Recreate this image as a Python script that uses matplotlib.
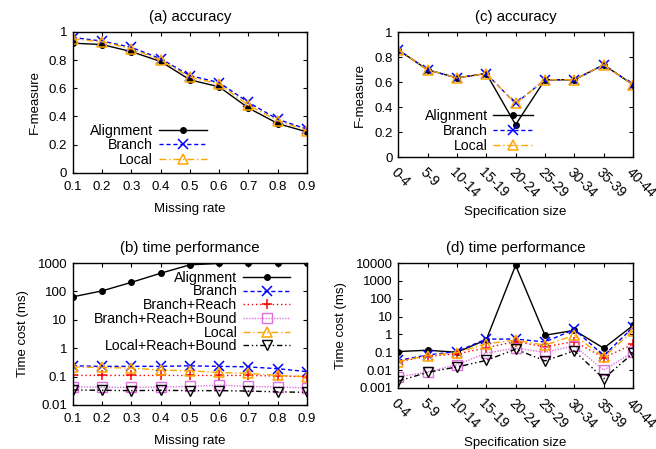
import matplotlib
matplotlib.use("Agg")
import matplotlib.pyplot as plt
from matplotlib.ticker import FixedLocator, FuncFormatter

plt.rcParams['font.family'] = ['Liberation Sans', 'DejaVu Sans']
plt.rcParams['font.size'] = 9.5

rates = [0.1, 0.2, 0.3, 0.4, 0.5, 0.6, 0.7, 0.8, 0.9]
sizes = ["0-4", "5-9", "10-14", "15-19", "20-24", "25-29", "30-34", "35-39", "40-44"]

# (a) accuracy vs missing rate
acc_rate_align = [0.92, 0.91, 0.86, 0.79, 0.66, 0.61, 0.46, 0.35, 0.29]
acc_rate_branch = [0.96, 0.935, 0.89, 0.81, 0.69, 0.64, 0.50, 0.38, 0.31]
acc_rate_local = [0.95, 0.93, 0.88, 0.80, 0.68, 0.63, 0.48, 0.37, 0.30]

# (c) accuracy vs specification size
acc_size_align = [0.86, 0.70, 0.635, 0.67, 0.26, 0.62, 0.62, 0.74, 0.58]
acc_size_branch = [0.86, 0.70, 0.635, 0.67, 0.43, 0.62, 0.62, 0.74, 0.58]
acc_size_local = [0.86, 0.70, 0.635, 0.67, 0.43, 0.62, 0.62, 0.74, 0.58]

# (b) time vs missing rate
t_rate_align = [65, 105, 210, 440, 870, 980, 1000, 1000, 1000]
t_rate_branch = [0.24, 0.23, 0.23, 0.23, 0.24, 0.23, 0.22, 0.19, 0.15]
t_rate_br = [0.11, 0.11, 0.11, 0.11, 0.11, 0.11, 0.11, 0.105, 0.1]
t_rate_brb = [0.044, 0.042, 0.042, 0.043, 0.045, 0.05, 0.045, 0.043, 0.04]
t_rate_local = [0.22, 0.21, 0.2, 0.17, 0.16, 0.14, 0.13, 0.11, 0.1]
t_rate_lrb = [0.034, 0.033, 0.032, 0.033, 0.032, 0.032, 0.031, 0.029, 0.028]

# (d) time vs specification size
t_size_align = [0.11, 0.13, 0.1, 0.5, 7500, 0.9, 1.7, 0.17, 3.2]
t_size_branch = [0.035, 0.07, 0.11, 0.55, 0.55, 0.38, 1.9, 0.065, 2.5]
t_size_br = [0.03, 0.06, 0.08, 0.18, 0.4, 0.2, 0.4, 0.05, 0.28]
t_size_brb = [0.0042, 0.0078, 0.02, 0.09, 0.17, 0.1, 0.23, 0.01, 0.1]
t_size_local = [0.03, 0.065, 0.095, 0.3, 0.48, 0.25, 0.9, 0.053, 1.6]
t_size_lrb = [0.0024, 0.0075, 0.015, 0.035, 0.15, 0.033, 0.12, 0.0033, 0.09]

styles = {
    "Alignment": dict(color="black", ls="-", marker="o", ms=4),
    "Branch": dict(color="#0000ff", ls=(0, (3, 2)), marker="x", ms=6.5, mew=1.1),
    "Branch+Reach": dict(color="#ff0000", ls=(0, (1, 2)), marker="+", ms=7, mew=1.1),
    "Branch+Reach+Bound": dict(color="#e070e0", ls=(0, (1, 1)), marker="s", ms=6.5,
                               mfc="none", mew=1.0),
    "Local": dict(color="#ffa500", ls=(0, (5, 2, 1, 2)), marker="^", ms=6.5,
                  mfc="none", mew=1.1),
    "Local+Reach+Bound": dict(color="black", ls=(0, (4, 2, 1, 2, 1, 2)), marker="v",
                              ms=6.5, mfc="none", mew=1.0),
}

fig = plt.figure(figsize=(6.56, 4.49), dpi=100)
ax_a = fig.add_axes([0.111, 0.615, 0.357, 0.314])
ax_c = fig.add_axes([0.607, 0.650, 0.358, 0.278])
ax_b = fig.add_axes([0.111, 0.098, 0.357, 0.316])
ax_d = fig.add_axes([0.607, 0.136, 0.358, 0.278])

fmt = FuncFormatter(lambda v, p: "%g" % v)


def base(ax):
    ax.tick_params(direction="in", top=True, right=True, length=3)
    ax.tick_params(axis="x", pad=6)
    ax.tick_params(axis="y", pad=4)
    for s in ax.spines.values():
        s.set_linewidth(1.0)


def legend(ax, x, y, hl, sp):
    ax.legend(loc="center right", bbox_to_anchor=(x, y), frameon=False,
              markerfirst=False, handlelength=hl, handletextpad=0.4,
              borderpad=0, borderaxespad=0, labelspacing=sp, fontsize=10.2)


# (a)
for name, vals in [("Alignment", acc_rate_align), ("Branch", acc_rate_branch),
                   ("Local", acc_rate_local)]:
    ax_a.plot(rates, vals, label=name, lw=1, **styles[name])
base(ax_a)
ax_a.set_xlim(0.1, 0.9)
ax_a.set_ylim(0, 1)
ax_a.set_xticks(rates)
ax_a.set_yticks([0, 0.2, 0.4, 0.6, 0.8, 1])
ax_a.xaxis.set_major_formatter(fmt)
ax_a.yaxis.set_major_formatter(fmt)
ax_a.set_title("(a) accuracy", pad=8, fontsize=10.8)
ax_a.set_xlabel("Missing rate", labelpad=7)
ax_a.set_ylabel("F-measure", labelpad=6)
legend(ax_a, 0.573, 0.195, 3.4, 0.05)

# (c)
xs = list(range(len(sizes)))
for name, vals in [("Alignment", acc_size_align), ("Branch", acc_size_branch),
                   ("Local", acc_size_local)]:
    ax_c.plot(xs, vals, label=name, lw=1, **styles[name])
base(ax_c)
ax_c.set_xlim(0, 8)
ax_c.set_ylim(0, 1)
ax_c.set_xticks(xs)
ax_c.set_xticklabels(sizes, rotation=-45, ha="left", va="top",
                     rotation_mode="anchor", fontsize=10)
ax_c.set_yticks([0, 0.2, 0.4, 0.6, 0.8, 1])
ax_c.yaxis.set_major_formatter(fmt)
ax_c.set_title("(c) accuracy", pad=8, fontsize=10.8)
ax_c.set_xlabel("Specification size", labelpad=4)
ax_c.set_ylabel("F-measure", labelpad=6)
legend(ax_c, 0.574, 0.21, 2.8, 0.05)

# (b)
for name, vals in [("Alignment", t_rate_align), ("Branch", t_rate_branch),
                   ("Branch+Reach", t_rate_br), ("Branch+Reach+Bound", t_rate_brb),
                   ("Local", t_rate_local), ("Local+Reach+Bound", t_rate_lrb)]:
    ax_b.plot(rates, vals, label=name, lw=1, **styles[name])
ax_b.set_yscale("log")
base(ax_b)
ax_b.set_xlim(0.1, 0.9)
ax_b.set_ylim(0.01, 1000)
ax_b.set_xticks(rates)
ax_b.xaxis.set_major_formatter(fmt)
ax_b.yaxis.set_major_locator(FixedLocator([0.01, 0.1, 1, 10, 100, 1000]))
ax_b.yaxis.set_major_formatter(fmt)
ax_b.yaxis.set_minor_locator(FixedLocator([]))
ax_b.set_title("(b) time performance", pad=8, fontsize=10.8)
ax_b.set_xlabel("Missing rate", labelpad=7)
ax_b.set_ylabel("Time cost (ms)", labelpad=6)
legend(ax_b, 0.927, 0.655, 3.3, -0.02)

# (d)
for name, vals in [("Alignment", t_size_align), ("Branch", t_size_branch),
                   ("Branch+Reach", t_size_br), ("Branch+Reach+Bound", t_size_brb),
                   ("Local", t_size_local), ("Local+Reach+Bound", t_size_lrb)]:
    ax_d.plot(xs, vals, label=name, lw=1, **styles[name])
ax_d.set_yscale("log")
base(ax_d)
ax_d.set_xlim(0, 8)
ax_d.set_ylim(0.001, 10000)
ax_d.set_xticks(xs)
ax_d.set_xticklabels(sizes, rotation=-45, ha="left", va="top",
                     rotation_mode="anchor", fontsize=10)
ax_d.yaxis.set_major_locator(FixedLocator([0.001, 0.01, 0.1, 1, 10, 100, 1000, 10000]))
ax_d.yaxis.set_major_formatter(fmt)
ax_d.yaxis.set_minor_locator(FixedLocator([]))
ax_d.set_title("(d) time performance", pad=8, fontsize=10.8)
ax_d.set_xlabel("Specification size", labelpad=4)
ax_d.set_ylabel("Time cost (ms)", labelpad=6)

fig.savefig("out.png", dpi=100)
